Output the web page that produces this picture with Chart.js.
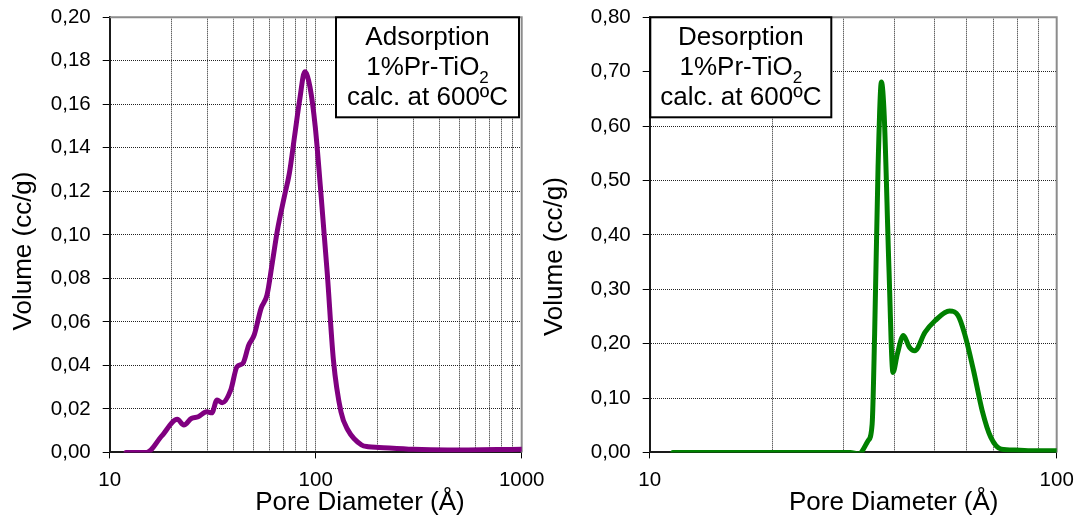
<!DOCTYPE html>
<html>
<head>
<meta charset="utf-8">
<script src="https://cdn.jsdelivr.net/npm/chart.js@4.4.1/dist/chart.umd.min.js"></script>
<style>
  html, body { margin: 0; padding: 0; background: #fff; }
  #wrap { position: relative; width: 1085px; height: 524px; overflow: hidden; }
  .panel { position: absolute; top: 0; height: 524px; }
  #left { left: 0; width: 560px; }
  #right { left: 540px; width: 545px; }
</style>
</head>
<body>
<div id="wrap">
  <div class="panel" id="left"><canvas id="adsChart" width="560" height="524"></canvas></div>
  <div class="panel" id="right"><canvas id="desChart" width="545" height="524"></canvas></div>
</div>
<script>
// Adsorption curve (pore diameter in Å, volume in cc/g)
const adsDiameter = [12.0, 15.1, 17.9, 21.3, 22.9, 24.9, 26.9, 29.6, 31.3, 33.2, 35.2, 38.7, 41.5, 44.3, 47.3,
    50.3, 54.3, 58.0, 61.5, 65.2, 70.4, 74.5, 78.9, 83.6, 88.5, 93.8, 99.5, 105.4, 113.8, 121.9,
    132.6, 143.3, 167, 180, 203, 298, 437, 1000];
const adsVolume = [0, 0, 0.0076, 0.0152, 0.0126, 0.0156, 0.0164, 0.0187, 0.0182, 0.0241, 0.0228, 0.0287, 0.0394,
    0.0409, 0.0493, 0.054, 0.0662, 0.0723, 0.0869, 0.1022, 0.1175, 0.1283, 0.1451, 0.162, 0.175,
    0.168, 0.1497, 0.122, 0.0823, 0.0425, 0.0187, 0.0103, 0.0034, 0.0026, 0.0023, 0.0014, 0.0011, 0.0015];

// Desorption curve
const desDiameter = [11.4, 31.1, 32.6, 34.4, 35.2, 35.7, 36.4, 37.1, 37.7, 38.7, 39.6, 40.6, 42.0, 43.5,
    44.8, 47.5, 50.3, 54.5, 57.2, 59.4, 62.5, 65.6, 68.9, 73.1, 79.1, 88.9, 100];
const desVolume = [0, 0, -0.003, 0.0215, 0.052, 0.218, 0.525, 0.681, 0.617, 0.341, 0.147, 0.181, 0.215,
    0.193, 0.187, 0.221, 0.2425, 0.26, 0.252, 0.218, 0.150, 0.077, 0.0276, 0.006, 0.0043, 0.003, 0.003];

// Ticks
const adsXTicks = [10, 20, 30, 40, 50, 60, 70, 80, 90, 100, 200, 300, 400, 500, 600, 700, 800, 900, 1000];
const desXTicks = [10, 20, 30, 40, 50, 60, 70, 80, 90, 100];
const xTickLabels = [10, 100, 1000];

const FONT = "'Liberation Sans', Arial, sans-serif";

function comma(v, d) {
    return v.toFixed(d).replace('.', ',');
}

// axis titles, frame and the caption box
const panelText = {
    id: 'panelText',
    beforeDatasetsDraw(chart) {
        const a = chart.chartArea;
        const ctx = chart.ctx;
        ctx.save();
        ctx.strokeStyle = '#8c8c8c';
        ctx.lineWidth = 2;
        ctx.beginPath();
        ctx.moveTo(a.left, a.top);
        ctx.lineTo(a.right, a.top);
        ctx.lineTo(a.right, a.bottom);
        ctx.stroke();
        ctx.restore();
    },
    afterDraw(chart, args, o) {
        const ctx = chart.ctx;
        ctx.save();
        ctx.fillStyle = '#000';
        ctx.font = '26px ' + FONT;
        ctx.textAlign = 'center';
        ctx.textBaseline = 'middle';
        ctx.fillText(o.xTitle, o.xTitlePos[0], o.xTitlePos[1]);
        ctx.save();
        ctx.translate(o.yTitlePos[0], o.yTitlePos[1]);
        ctx.rotate(-Math.PI / 2);
        ctx.fillText(o.yTitle, 0, 0);
        ctx.restore();

        // caption box
        const b = o.box;
        ctx.fillStyle = '#fff';
        ctx.fillRect(b[0], b[1], b[2] - b[0], b[3] - b[1]);
        ctx.strokeStyle = '#000';
        ctx.lineWidth = 2;
        ctx.strokeRect(b[0], b[1], b[2] - b[0], b[3] - b[1]);
        ctx.fillStyle = '#000';
        const cx = (b[0] + b[2]) / 2;
        ctx.fillText(o.lines[0], cx, b[1] + 21);
        // line with subscript
        ctx.font = '26px ' + FONT;
        const main = '1%Pr-TiO';
        const wMain = ctx.measureText(main).width;
        ctx.font = '17px ' + FONT;
        const wSub = ctx.measureText('2').width;
        const x0 = cx - (wMain + wSub) / 2;
        ctx.textAlign = 'left';
        ctx.font = '26px ' + FONT;
        ctx.fillText(main, x0, b[1] + 51);
        ctx.font = '17px ' + FONT;
        ctx.fillText('2', x0 + wMain, b[1] + 61);
        ctx.textAlign = 'center';
        ctx.font = '26px ' + FONT;
        ctx.fillText(o.lines[2], cx, b[1] + 81);
        ctx.restore();
    }
};

function makeConfig(xs, ys, color, xTicks, xMax, yMax, yStep, padRight, text) {
    return {
        type: 'scatter',
        data: {
            datasets: [{
                data: xs.map((x, i) => ({ x: x, y: ys[i] })),
                showLine: true,
                borderColor: color,
                borderWidth: 5,
                pointRadius: 0,
                cubicInterpolationMode: 'monotone',
                borderCapStyle: 'round',
                borderJoinStyle: 'round'
            }]
        },
        options: {
            responsive: false,
            animation: false,
            events: [],
            layout: { padding: { top: 17.3, right: padRight, left: 0, bottom: 0 } },
            plugins: {
                legend: { display: false },
                tooltip: { enabled: false },
                panelText: text
            },
            scales: {
                x: {
                    type: 'logarithmic',
                    min: 10,
                    max: xMax,
                    afterBuildTicks: s => { s.ticks = xTicks.map(v => ({ value: v })); },
                    afterFit: s => { s.height = 71.6; s.paddingLeft = 0; s.paddingRight = 0; },
                    ticks: {
                        autoSkip: false,
                        maxRotation: 0,
                        padding: 10,
                        color: '#000',
                        font: { family: FONT, size: 20.5 },
                        callback: v => xTickLabels.includes(v) ? String(v) : ''
                    },
                    grid: {
                        color: '#222',
                        lineWidth: 1,
                        tickLength: 6,
                        tickColor: c => (c.tick && xTickLabels.includes(c.tick.value)) ? '#000' : 'rgba(0,0,0,0)'
                    },
                    border: { display: true, color: '#1a1a1a', width: 2, dash: [1, 1] }
                },
                y: {
                    min: 0,
                    max: yMax,
                    afterFit: s => { s.width = 109.7; s.paddingTop = 0; s.paddingBottom = 0; },
                    ticks: {
                        stepSize: yStep,
                        padding: 12,
                        color: '#000',
                        font: { family: FONT, size: 20.5 },
                        callback: v => comma(v, 2)
                    },
                    grid: { color: '#222', lineWidth: 1, tickLength: 7, tickColor: '#000' },
                    border: { display: true, color: '#1a1a1a', width: 2, dash: [1, 1] }
                }
            }
        },
        plugins: [panelText]
    };
}

window.onload = function() {
    const adsCtx = document.getElementById('adsChart').getContext('2d');
    new Chart(adsCtx, makeConfig(adsDiameter, adsVolume, '#800080', adsXTicks, 1000, 0.2, 0.02, 38.3, {
        xTitle: 'Pore Diameter (Å)', xTitlePos: [360, 503],
        yTitle: 'Volume (cc/g)', yTitlePos: [24, 251],
        box: [336, 17.3, 519, 117.3],
        lines: ['Adsorption', '1%Pr-TiO2', 'calc. at 600ºC']
    }));

    const desCtx = document.getElementById('desChart').getContext('2d');
    new Chart(desCtx, makeConfig(desDiameter, desVolume, '#008000', desXTicks, 100, 0.8, 0.1, 28.3, {
        xTitle: 'Pore Diameter (Å)', xTitlePos: [353.7, 503],
        yTitle: 'Volume (cc/g)', yTitlePos: [15, 256.6],
        box: [110.3, 17.3, 291.3, 117.3],
        lines: ['Desorption', '1%Pr-TiO2', 'calc. at 600ºC']
    }));
};
</script>
</body>
</html>
